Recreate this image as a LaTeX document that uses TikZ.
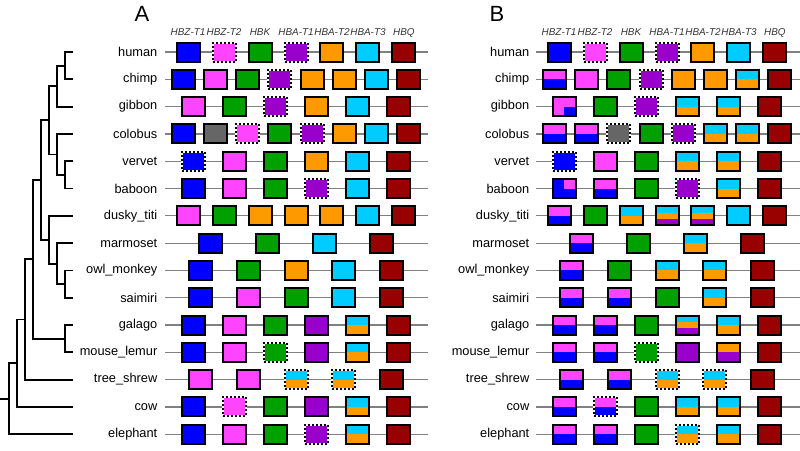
\documentclass[tikz,border=0pt]{standalone}
\usepackage{fontspec}
\setmainfont{Liberation Sans}
\usepackage{xcolor}
\usepackage{tikz}
\usetikzlibrary{positioning}

\definecolor{cBlue}{HTML}{0000FF}
\definecolor{cPink}{HTML}{FF44FF}
\definecolor{cGreen}{HTML}{00A000}
\definecolor{cPurple}{HTML}{9900CC}
\definecolor{cOrange}{HTML}{FF9900}
\definecolor{cCyan}{HTML}{00CCFF}
\definecolor{cRed}{HTML}{990000}
\definecolor{cGray}{HTML}{666666}

\begin{document}
\begin{tikzpicture}[x=1pt, y=-1pt,
        gene/.style={draw, line width=2pt, minimum width=23pt, minimum height=19pt, inner sep=0pt},
        lost/.style={draw=white, postaction={draw=black, dash pattern=on 2pt off 2pt}},
        half/.style 2 args={path picture={
            \fill[#1] (path picture bounding box.north west) rectangle (path picture bounding box.east);
            \fill[#2] (path picture bounding box.west) rectangle (path picture bounding box.south east);}},
        bl/.style={fill=cBlue}, blx/.style={bl, lost},
        pk/.style={fill=cPink}, pkx/.style={pk, lost},
        gr/.style={fill=cGreen}, grx/.style={gr, lost},
        pu/.style={fill=cPurple}, pux/.style={pu, lost},
        or/.style={fill=cOrange},
        cy/.style={fill=cCyan},
        rd/.style={fill=cRed},
        gy/.style={fill=cGray}, gyx/.style={gy, lost},
        co/.style={half={cCyan}{cOrange}}, cox/.style={co, lost},
        pb/.style={half={cPink}{cBlue}}, pbx/.style={pb, lost},
        op/.style={half={cOrange}{cPurple}},
        cop/.style={path picture={
            \fill[cCyan] (path picture bounding box.north west) rectangle (path picture bounding box.south east);
            \fill[cOrange] ([yshift=-6.3pt]path picture bounding box.north west) rectangle ([yshift=6.3pt]path picture bounding box.south east);
            \fill[cPurple] ([yshift=6.3pt]path picture bounding box.south west) rectangle (path picture bounding box.south east);}},
        pbc/.style={fill=cPink, path picture={\fill[cBlue] (path picture bounding box.center) rectangle (path picture bounding box.south east);}},
        bpc/.style={fill=cBlue, path picture={\fill[cPink] (path picture bounding box.center) rectangle (path picture bounding box.north east);}},
        rowline/.style={draw=black!50, line width=1.2pt},
        tree/.style={line width=1.8pt},
        species/.style={inner sep=0pt, font=\fontsize{12.8}{15}\selectfont},
        hdr/.style={inner sep=0pt, text depth=0pt, text=black!80, font=\fontsize{9.9}{11}\selectfont\itshape}]
    \useasboundingbox (0,0) rectangle (800,450);

    % Panel A
    \foreach \r/\n/\boxes in {1/7/{bl,pkx,gr,pux,or,cy,rd}, 2/8/{bl,pk,gr,pux,or,or,cy,rd},
            3/6/{pk,gr,pux,or,cy,rd}, 4/8/{bl,gy,pkx,gr,pux,or,cy,rd}, 5/6/{blx,pk,gr,or,cy,rd},
            6/6/{bl,pk,gr,pux,cy,rd}, 7/7/{pk,gr,or,or,or,cy,rd}, 8/4/{bl,gr,cy,rd},
            9/5/{bl,gr,or,cy,rd}, 10/5/{bl,pk,gr,cy,rd}, 11/6/{bl,pk,gr,pu,co,rd},
            12/6/{bl,pk,grx,pu,co,rd}, 13/5/{pk,pk,cox,cox,rd}, 14/6/{bl,pkx,gr,pu,co,rd},
            15/6/{bl,pk,gr,pux,co,rd}}{
        \coordinate (A-l\r) at (165, {52+27.3*(\r-1)});
        \coordinate (A-r\r) at (428, {52+27.3*(\r-1)});
        \draw[rowline] (A-l\r) -- (A-r\r);
        \foreach \b [count=\i] in \boxes
            \node[gene, \b] (A-\r-\i) at ({296+(\i-(\n+1)/2)*290/(\n+1.06)}, {52+27.3*(\r-1)}) {};
    }

    % Panel B
    \foreach \r/\n/\boxes in {1/7/{bl,pkx,gr,pux,or,cy,rd}, 2/8/{pb,pk,gr,pux,or,or,co,rd},
            3/6/{pbc,gr,pux,co,co,rd}, 4/8/{pb,pb,gyx,gr,pux,co,co,rd}, 5/6/{blx,pk,gr,co,co,rd},
            6/6/{bpc,pb,gr,pux,co,rd}, 7/7/{pb,gr,co,cop,cop,cy,rd}, 8/4/{pb,gr,co,rd},
            9/5/{pb,gr,co,co,rd}, 10/5/{pb,pb,gr,co,rd}, 11/6/{pb,pb,gr,cop,co,rd},
            12/6/{pb,pb,grx,pu,op,rd}, 13/5/{pb,pb,cox,cox,rd}, 14/6/{pb,pbx,gr,co,co,rd},
            15/6/{pb,pb,gr,cox,co,rd}}{
        \coordinate (B-l\r) at (536, {52+27.3*(\r-1)});
        \coordinate (B-r\r) at (800, {52+27.3*(\r-1)});
        \draw[rowline] (B-l\r) -- (B-r\r);
        \foreach \b [count=\i] in \boxes
            \node[gene, \b] (B-\r-\i) at ({667+(\i-(\n+1)/2)*290/(\n+1.06)}, {52+27.3*(\r-1)}) {};
    }

    % Species names and tree tips
    \foreach \r/\lab in {1/human, 2/chimp, 3/gibbon, 4/colobus, 5/vervet, 6/baboon, 7/dusky\_titi,
            8/marmoset, 9/owl\_monkey, 10/saimiri, 11/galago, 12/mouse\_lemur, 13/tree\_shrew,
            14/cow, 15/elephant}{
        \node[species, left=7.5pt of A-l\r] (A-lab\r) {\lab};
        \node[species, left=6.5pt of B-l\r] (B-lab\r) {\lab};
        \coordinate (t\r) at (73, {52+27.3*(\r-1)});
    }

    % Gene headers
    \foreach \g [count=\i] in {HBZ-T1, HBZ-T2, HBK, HBA-T1, HBA-T2, HBA-T3, HBQ}{
        \node[hdr, above=5.8pt of A-1-\i] (A-h\i) {\g};
        \node[hdr, above=5.8pt of B-1-\i] (B-h\i) {\g};
    }

    % Panel letters
    \node[font=\fontsize{22}{26}\selectfont] (panA) at (142,14) {A};
    \node[font=\fontsize{22}{26}\selectfont] (panB) at (497,14) {B};

    % Tree
    \coordinate (hc) at (65,65.65);
    \coordinate (hcg) at (57,86.1);
    \coordinate (vb) at (65,174.85);
    \coordinate (cvb) at (57,154.4);
    \coordinate (cat) at (49,120.25);
    \coordinate (os) at (65,284.05);
    \coordinate (mos) at (57,263.6);
    \coordinate (pla) at (49,239.7);
    \coordinate (ant) at (41,180);
    \coordinate (str) at (65,338.65);
    \coordinate (pri) at (33,259.3);
    \coordinate (eua) at (25,319.5);
    \coordinate (lau) at (17,363.2);
    \coordinate (root) at (9,398.7);
    \coordinate (stem) at (0,398.7);
    \draw[tree] (t1) -| (hc) |- (t2);
    \draw[tree] (hc) -| (hcg) |- (t3);
    \draw[tree] (t5) -| (vb) |- (t6);
    \draw[tree] (t4) -| (cvb) |- (vb);
    \draw[tree] (hcg) -| (cat) |- (cvb);
    \draw[tree] (t9) -| (os) |- (t10);
    \draw[tree] (t8) -| (mos) |- (os);
    \draw[tree] (t7) -| (pla) |- (mos);
    \draw[tree] (cat) -| (ant) |- (pla);
    \draw[tree] (t11) -| (str) |- (t12);
    \draw[tree] (ant) -| (pri) |- (str);
    \draw[tree] (pri) -| (eua) |- (t13);
    \draw[tree] (eua) -| (lau) |- (t14);
    \draw[tree] (lau) -| (root) |- (t15);
    \draw[tree] (root) -- (stem);
\end{tikzpicture}
\end{document}
